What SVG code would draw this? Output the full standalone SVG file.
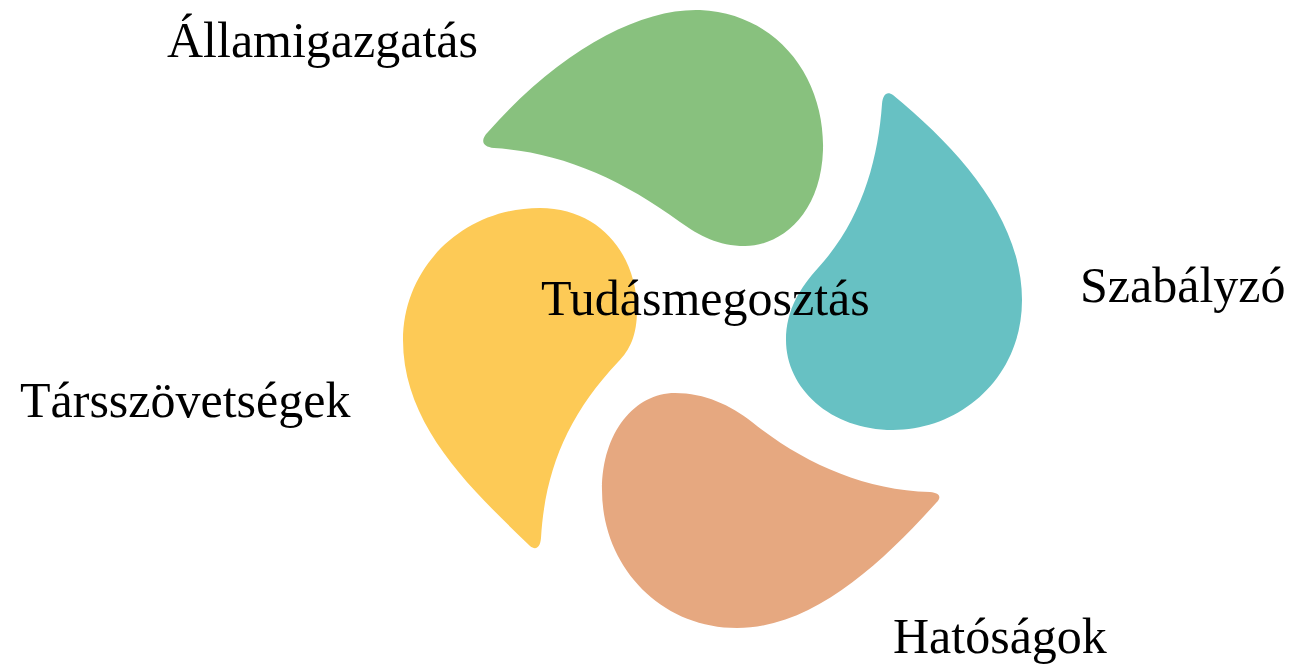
<svg xmlns="http://www.w3.org/2000/svg" width="1291" height="667" viewBox="0 0 1291 667">
<style>
.lbl{font-family:"Liberation Serif","Times New Roman",serif;font-size:50px;fill:#000}
</style>
<rect width="1291" height="667" fill="#fff"/>
<g id="connectors"></g>
<g id="allamigazgatas">
<path fill="#88C17E" d="M488,132 C560,50 640,8 700,10 C780,14 825,80 823,150 C821,215 780,246 745,246 C718,246 700,236 680,222 C620,178 560,152 494,148 C482,147 480,140 488,132 Z"/>
<text class="lbl" x="167" y="57">Államigazgatás</text>
</g>
<g id="szabalyzo">
<path fill="#67C1C3" d="M893,95 C960,150 1022,220 1022,300 C1022,378 960,430 893,430 C830,430 786,388 786,340 C786,310 800,288 818,268 C862,220 878,160 882,104 C883,94 887,91 893,95 Z"/>
<text class="lbl" x="1080" y="302">Szabályzó</text>
</g>
<g id="tarsszovetsegek">
<path fill="#FDCA56" d="M530,546 C470,488 403,425 403,340 C403,268 462,208 540,208 C600,208 637,255 637,310 C637,335 630,350 618,362 C568,415 545,470 541,538 C540,549 535,550 530,546 Z"/>
<text class="lbl" x="20" y="417">Társszövetségek</text>
</g>
<g id="hatosagok">
<path fill="#E6A880" d="M936,503 C880,565 812,628 737,628 C660,628 602,566 602,490 C602,432 635,393 675,393 C705,393 730,405 752,422 C802,462 862,490 930,492 C940,493 942,497 936,503 Z"/>
<text class="lbl" x="893" y="653">Hatóságok</text>
</g>
<g id="tudasmegosztas">
<text class="lbl" x="541" y="315">Tudásmegosztás</text>
</g>
</svg>
